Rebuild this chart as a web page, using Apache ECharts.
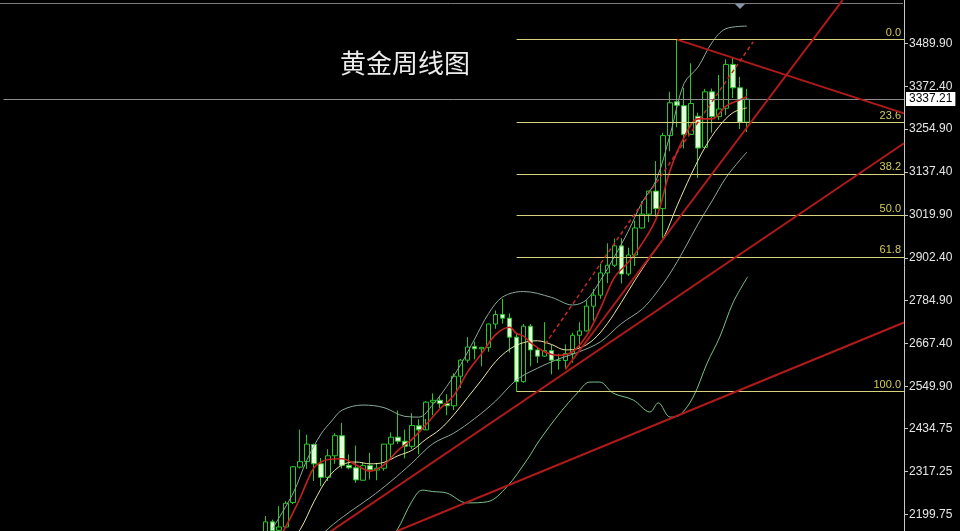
<!DOCTYPE html>
<html><head><meta charset="utf-8">
<script src="https://cdn.jsdelivr.net/npm/echarts@6/dist/echarts.min.js"></script>
<style>html,body{margin:0;padding:0;background:#000;}#c{width:960px;height:531px;}</style>
</head><body><div id="c"></div>
<script>
// ---- data (weekly gold) ----
const weeks = ['2024-03-04','2024-03-11','2024-03-18','2024-03-25','2024-04-01','2024-04-08','2024-04-15','2024-04-22','2024-04-29','2024-05-06','2024-05-13','2024-05-20','2024-05-27','2024-06-03','2024-06-10','2024-06-17','2024-06-24','2024-07-01','2024-07-08','2024-07-15','2024-07-22','2024-07-29','2024-08-05','2024-08-12','2024-08-19','2024-08-26','2024-09-02','2024-09-09','2024-09-16','2024-09-23','2024-09-30','2024-10-07','2024-10-14','2024-10-21','2024-10-28','2024-11-04','2024-11-11','2024-11-18','2024-11-25','2024-12-02','2024-12-09','2024-12-16','2024-12-23','2024-12-30','2025-01-06','2025-01-13','2025-01-20','2025-01-27','2025-02-03','2025-02-10','2025-02-17','2025-02-24','2025-03-03','2025-03-10','2025-03-17','2025-03-24','2025-03-31','2025-04-07','2025-04-14','2025-04-21','2025-04-28','2025-05-05','2025-05-12','2025-05-19','2025-05-26','2025-06-02','2025-06-09','2025-06-16','2025-06-23','2025-06-30'];
const opens  = [2083,2179,2156,2165,2232,2329,2344,2391,2338,2301,2360,2415,2334,2327,2293,2333,2321,2326,2392,2411,2400,2386,2442,2431,2507,2512,2503,2497,2578,2622,2659,2653,2657,2721,2747,2737,2685,2563,2715,2650,2633,2648,2622,2621,2640,2690,2702,2770,2800,2861,2882,2935,2858,2910,2984,3022,3085,3037,3237,3330,3319,3240,3290,3205,3357,3289,3312,3432,3368,3274];
const highs  = [2195,2185,2222,2236,2331,2432,2418,2393,2354,2378,2422,2450,2364,2388,2342,2368,2340,2392,2424,2484,2432,2477,2460,2510,2531,2525,2529,2586,2625,2685,2673,2657,2722,2758,2790,2750,2695,2721,2721,2657,2726,2664,2639,2665,2697,2726,2786,2817,2886,2942,2955,2956,2930,3004,3057,3086,3167,3245,3357,3500,3368,3435,3300,3365,3366,3403,3446,3452,3398,3365];
const lows   = [2078,2146,2146,2164,2228,2325,2324,2291,2277,2291,2338,2325,2323,2286,2293,2295,2293,2319,2353,2393,2353,2379,2364,2461,2471,2491,2471,2485,2546,2615,2624,2605,2645,2708,2722,2643,2536,2560,2605,2614,2631,2583,2596,2597,2615,2656,2700,2730,2790,2833,2877,2832,2853,2880,2982,3000,3015,2957,3194,3260,3202,3239,3121,3205,3245,3280,3293,3340,3255,3247];
const closes = [2179,2155,2165,2230,2330,2344,2392,2338,2301,2360,2415,2334,2327,2294,2333,2322,2326,2392,2411,2400,2386,2443,2431,2507,2512,2503,2497,2578,2622,2658,2653,2657,2721,2747,2737,2685,2563,2715,2650,2633,2648,2622,2621,2640,2690,2702,2770,2800,2861,2882,2935,2858,2910,2984,3022,3085,3037,3237,3327,3320,3240,3325,3203,3357,3289,3310,3432,3368,3274,3337];

// indicator lines: [week index, price]
const ma5Red = [[1,2095],[2,2135],[3,2168],[4,2205],[5,2245],[6,2290],[7,2328],[8,2343],[9,2350],[11,2352],[13,2335],[15,2318],[17,2335],[19,2375],[21,2405],[23,2445],[25,2488],[27,2525],[29,2590],[31,2640],[33,2692],[35,2712],[36,2695],[37,2688],[38,2670],[40,2645],[42,2635],[44,2645],[46,2688],[48,2763],[50,2848],[52,2890],[54,2942],[56,3010],[58,3142],[60,3232],[62,3283],[64,3283],[66,3318],[68,3335],[69,3344]];
const ma10Yellow = [[3,2110],[5,2158],[7,2235],[9,2300],[11,2335],[13,2343],[15,2338],[17,2342],[19,2360],[21,2375],[23,2405],[25,2432],[27,2472],[29,2520],[31,2568],[33,2618],[35,2652],[37,2670],[39,2675],[41,2665],[43,2650],[45,2655],[47,2678],[49,2722],[51,2780],[53,2842],[55,2900],[57,2955],[59,3045],[61,3130],[63,3205],[65,3262],[67,3300],[69,3313]];
const bbMid = [[7,2120],[9,2160],[12,2205],[15,2245],[18,2290],[21,2340],[24,2393],[27,2422],[30,2462],[33,2510],[36,2568],[39,2600],[42,2625],[45,2645],[48,2672],[51,2722],[54,2762],[56,2806],[58,2860],[60,2925],[62,2995],[64,3058],[66,3122],[68,3170],[69,3192]];
const bbUpper = [[1,2160],[4,2258],[6,2350],[8,2420],[9.5,2455],[11,2485],[14,2499],[17,2492],[20,2468],[22,2466],[24,2500],[26,2550],[28,2610],[30,2680],[32,2750],[34,2795],[37,2810],[41,2794],[44,2773],[46,2787],[48,2840],[50,2905],[52,2975],[54,3055],[56,3115],[58,3240],[60,3380],[62,3425],[64,3492],[66,3530],[69,3537]];
const bbLower = [[16,2090],[18.8,2154],[21,2235],[22.5,2266],[24,2262],[26,2258],[28.9,2231],[31.8,2234],[34.6,2275],[37.5,2349],[39.3,2403],[42.2,2477],[44.7,2532],[46.5,2562],[47.9,2562],[49.8,2532],[52.7,2513],[55.1,2480],[56.3,2505],[58,2466],[59.4,2472],[61.3,2521],[63.3,2614],[65.1,2685],[67,2779],[69.1,2850]];

// trend lines: [week index, price]
const trendSteep  = [[43,2597],[82.7,3608]];
const trendMid    = [[9,2148],[91.5,3216]];
const trendLow    = [[18.9,2154],[91.5,2725]];
const trendTop    = [[59,3500],[91.5,3298]];
const trendDashed = [[40.1,2666],[69.9,3494]];

// Fibonacci retracement (high 3500 / low 2536.7)
const fibNames  = ['0.0','23.6','38.2','50.0','61.8','100.0'];
const fibPrices = [3500.0,3272.7,3132.0,3018.4,2904.8,2536.7];
const fibStartIndex = 36;

const yTickLabels = [3489.90,3372.40,3254.90,3137.40,3019.90,2902.40,2784.90,2667.40,2549.90,2434.75,2317.25,2199.75];
const lastPrice = 3337.21;
const titleText = '黄金周线图';

// ---- chart ----
const chart = echarts.init(document.getElementById('c'));
const candles = weeks.map((w,i)=>[i, opens[i], closes[i], lows[i], highs[i]]);
const X_MIN = -37.5, X_MAX = 91.5;
const redTrend = '#b01a1a';
function lineS(data, color, width, extra){
  return Object.assign({type:'line', data, smooth:0.35, symbol:'none', silent:true, z:4,
    lineStyle:{color, width}, clip:true}, extra||{});
}
function trendS(data, dashed){
  return {type:'line', data, symbol:'none', silent:true, z:5, clip:true,
    lineStyle:{color: dashed ? '#c02a2a' : redTrend, width: dashed?1.5:2, type: dashed?[4,3]:'solid'}};
}
const option = {
  backgroundColor:'#000',
  animation:false,
  grid:{left:3.5, top:0, width:900.5, height:531},
  xAxis:{type:'value', min:X_MIN, max:X_MAX, show:false},
  yAxis:{type:'value', position:'right', min:2154.0, max:3608.5, splitLine:{show:false},
    axisLine:{show:true, onZero:false, lineStyle:{color:'#c8c8c8', width:1}},
    axisTick:{show:true, inside:false, length:4, lineStyle:{color:'#c8c8c8'}, customValues: yTickLabels},
    axisLabel:{show:true, color:'#e6e6e6', fontSize:12, fontFamily:'"Liberation Sans", sans-serif', margin:5,
      customValues: yTickLabels, formatter: v => v.toFixed(2)}},
  graphic:[
    {type:'line', shape:{x1:0,y1:3.5,x2:903,y2:3.5}, style:{stroke:'#7a7a7a', lineWidth:1}, silent:true},
    {type:'polygon', shape:{points:[[735,4],[745,4],[740,9]]}, style:{fill:'#8595a8'}, silent:true},
    {type:'text', left:340, top:50, style:{text:titleText, fill:'#ececec', font:'26px "Noto Sans CJK SC"'}, silent:true}
  ],
  series:[
    {type:'candlestick', data:candles, encode:{x:0, y:[1,2,3,4]}, barWidth:5, z:3, silent:true,
      itemStyle:{color:'#000000', color0:'#e2ffd9', borderColor:'#27c927', borderColor0:'#27c927', borderWidth:1},
      markLine:{silent:true, symbol:['none','none'], animation:false,
        lineStyle:{color:'#8c8c8c', width:1, type:'solid'},
        label:{show:true, position:'end', formatter: ()=>lastPrice.toFixed(2), color:'#000', backgroundColor:'#ffffff',
          padding:[1,3,1,3], fontSize:12, fontFamily:'"Liberation Sans", sans-serif', distance:2},
        data:[{yAxis:lastPrice}]}},
    {type:'line', data:[[fibStartIndex, fibPrices[0]]], symbol:'none', lineStyle:{opacity:0}, silent:true, z:2,
      markLine:{silent:true, symbol:['none','none'], animation:false,
        lineStyle:{color:'#d8d27e', width:1, type:'solid'},
        label:{show:true, position:'insideEndTop', formatter:'{b}', color:'#d4cc5c', fontSize:11,
          fontFamily:'"Liberation Sans", sans-serif', distance:[3,1]},
        data: fibPrices.map((p,i)=>[{coord:[fibStartIndex,p], name:fibNames[i]},{coord:[X_MAX,p]}])}},
    lineS(bbUpper, '#8aa99a', 1),
    lineS(bbMid, '#8aa99a', 1),
    lineS(bbLower, '#79c28a', 1),
    lineS(ma10Yellow, '#ece6a0', 1),
    lineS(ma5Red, '#c82020', 1.6),
    trendS(trendSteep), trendS(trendMid), trendS(trendLow), trendS(trendTop), trendS(trendDashed, true)
  ]
};
chart.setOption(option);
</script></body></html>
